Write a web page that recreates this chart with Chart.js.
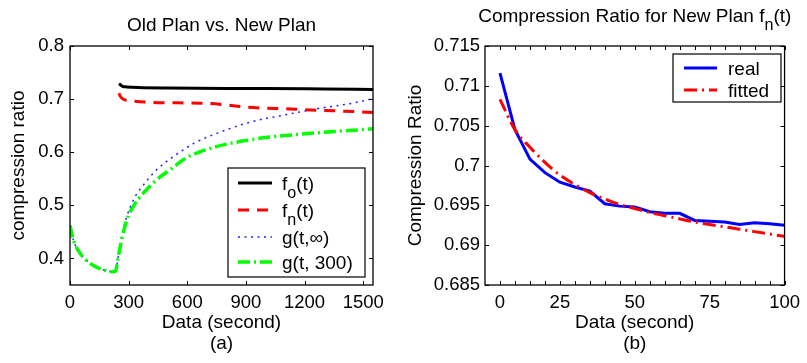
<!DOCTYPE html>
<html>
<head>
<meta charset="utf-8">
<script src="https://cdn.jsdelivr.net/npm/chart.js@4.4.0/dist/chart.umd.min.js"></script>
<style>
  html, body { margin: 0; padding: 0; background: #fff; }
  #wrap { position: relative; width: 807px; height: 363px; }
  #left { position: absolute; left: 0; top: 0; }
  #right { position: absolute; left: 400px; top: 0; }
</style>
</head>
<body>
<div id="wrap">
  <canvas id="left" width="400" height="363"></canvas>
  <canvas id="right" width="407" height="363"></canvas>
</div>
<script>
// (a) old plan vs new plan, x = time in seconds
const foTime = [250, 258, 268, 290, 350, 500, 800, 1000, 1300, 1550];
const foRatio = [0.729, 0.727, 0.724, 0.723, 0.722, 0.721, 0.720, 0.720, 0.719, 0.718];

const fnTime = [250, 258, 268, 285, 325, 410, 550, 700, 800, 900, 1000, 1100, 1200, 1350, 1550];
const fnRatio = [0.711, 0.705, 0.701, 0.698, 0.696, 0.694, 0.693, 0.692, 0.689, 0.685, 0.683, 0.682, 0.680, 0.678, 0.675];

const gInfTime = [0, 17, 51, 102, 153, 220, 232, 247, 264, 290, 324, 375, 443, 530, 635, 755, 925, 1095, 1265, 1440, 1550];
const gInfRatio = [0.462, 0.435, 0.41, 0.391, 0.381, 0.375, 0.376, 0.404, 0.44, 0.478, 0.51, 0.538, 0.567, 0.592, 0.617, 0.636, 0.657, 0.670, 0.682, 0.692, 0.701];

const g300Time = [0, 17, 51, 102, 153, 220, 232, 247, 264, 290, 324, 375, 443, 512, 597, 668, 753, 839, 900, 1010, 1181, 1353, 1550];
const g300Ratio = [0.462, 0.435, 0.41, 0.391, 0.381, 0.375, 0.376, 0.403, 0.435, 0.472, 0.498, 0.523, 0.548, 0.567, 0.590, 0.601, 0.611, 0.618, 0.622, 0.628, 0.634, 0.639, 0.644];

const leftXTicks = [0, 300, 600, 900, 1200, 1500];
const leftYTicks = [0.4, 0.5, 0.6, 0.7, 0.8];

// (b) new plan, 20 samples
const sampleLabels = ['0', '', '', '', '25', '', '', '', '', '50', '', '', '', '', '75', '', '', '', '', '100'];
const realRatio = [0.7116, 0.7045, 0.7008, 0.6991, 0.6979, 0.6973, 0.6968, 0.6952, 0.6949, 0.6948,
                   0.6942, 0.6940, 0.6940, 0.6931, 0.6930, 0.6929, 0.6926, 0.6928, 0.6927, 0.6925];
const fittedRatio = [0.7083, 0.7045, 0.7023, 0.7004, 0.6988, 0.6976, 0.6966, 0.6958, 0.6951, 0.6946,
                     0.6941, 0.6937, 0.6933, 0.6929, 0.6926, 0.6923, 0.6920, 0.6917, 0.6914, 0.6911];
const rightYTicks = [0.685, 0.69, 0.695, 0.7, 0.705, 0.71, 0.715];

const FONT = '"Liberation Sans", Arial, Helvetica, sans-serif';
const pts = (xs, ys) => xs.map((x, i) => ({x: x, y: ys[i]}));

// text with "_c" subscripts
function drawRich(ctx, text, x, y, size, align) {
  const parts = [];
  for (let i = 0; i < text.length; i++) {
    if (text[i] === '_') {
      parts.push({s: text[i + 1], sub: true});
      i++;
    } else if (parts.length && !parts[parts.length - 1].sub) {
      parts[parts.length - 1].s += text[i];
    } else {
      parts.push({s: text[i], sub: false});
    }
  }
  const subSize = size * 0.85;
  let total = 0;
  parts.forEach(p => {
    ctx.font = (p.sub ? subSize : size) + 'px ' + FONT;
    p.w = ctx.measureText(p.s).width;
    total += p.w;
  });
  let cx = align === 'center' ? x - total / 2 : x;
  ctx.textAlign = 'left';
  ctx.textBaseline = 'alphabetic';
  ctx.fillStyle = '#000';
  parts.forEach(p => {
    ctx.font = (p.sub ? subSize : size) + 'px ' + FONT;
    ctx.fillText(p.s, cx, p.sub ? y + size * 0.4 : y);
    cx += p.w;
  });
}

// box, inward ticks, title and legend
const frame = {
  id: 'frame',
  afterDraw(chart, args, opts) {
    const {ctx, chartArea: a, scales: {x, y}} = chart;
    const L = 4;
    ctx.save();
    ctx.strokeStyle = '#000';
    ctx.lineWidth = 1;
    ctx.setLineDash([]);
    ctx.beginPath();
    x.ticks.forEach(t => {
      const px = Math.round(x.getPixelForValue(t.value)) + 0.5;
      ctx.moveTo(px, a.bottom); ctx.lineTo(px, a.bottom - L);
      ctx.moveTo(px, a.top); ctx.lineTo(px, a.top + L);
    });
    y.ticks.forEach(t => {
      const py = Math.round(y.getPixelForValue(t.value)) + 0.5;
      ctx.moveTo(a.left, py); ctx.lineTo(a.left + L, py);
      ctx.moveTo(a.right, py); ctx.lineTo(a.right - L, py);
    });
    ctx.stroke();
    ctx.lineWidth = 1.3;
    ctx.strokeRect(a.left, a.top, a.right - a.left, a.bottom - a.top);

    drawRich(ctx, opts.title, (a.left + a.right) / 2, opts.titleY, 19, 'center');

    const lg = opts.legend;
    ctx.fillStyle = '#fff';
    ctx.fillRect(lg.box[0], lg.box[1], lg.box[2] - lg.box[0], lg.box[3] - lg.box[1]);
    ctx.lineWidth = 1.2;
    ctx.strokeStyle = '#000';
    ctx.strokeRect(lg.box[0], lg.box[1], lg.box[2] - lg.box[0], lg.box[3] - lg.box[1]);
    chart.data.datasets.forEach((ds, i) => {
      const ry = lg.rows[i];
      ctx.beginPath();
      ctx.strokeStyle = ds.borderColor;
      ctx.lineWidth = ds.borderWidth;
      ctx.setLineDash(ds.borderDash || []);
      ctx.moveTo(lg.lineX[0], ry);
      ctx.lineTo(lg.lineX[1], ry);
      ctx.stroke();
      ctx.setLineDash([]);
      drawRich(ctx, ds.label, lg.textX, ry + 7, 19, 'left');
    });
    ctx.restore();
  }
};

const tickFont = {family: FONT, size: 18.5};
const titleFont = {family: FONT, size: 19};

new Chart(document.getElementById('left'), {
  type: 'line',
  data: {
    datasets: [
      {label: 'f_o(t)', data: pts(foTime, foRatio), borderColor: '#000000', borderWidth: 3},
      {label: 'f_n(t)', data: pts(fnTime, fnRatio), borderColor: '#ff0000', borderWidth: 3, borderDash: [11, 8]},
      {label: 'g(t,∞)', data: pts(gInfTime, gInfRatio), borderColor: '#2020ff', borderWidth: 1.5, borderDash: [2, 4.5]},
      {label: 'g(t, 300)', data: pts(g300Time, g300Ratio), borderColor: '#00ff00', borderWidth: 3.5, borderDash: [12, 4, 2, 4], order: -1}
    ]
  },
  options: {
    responsive: false,
    animation: false,
    layout: {padding: {left: 0, right: 27, top: 46, bottom: 0}},
    elements: {point: {radius: 0}, line: {cubicInterpolationMode: 'monotone', fill: false}},
    plugins: {
      legend: {display: false},
      tooltip: {enabled: false},
      frame: {
        title: 'Old Plan vs. New Plan',
        titleY: 31,
        legend: {box: [228, 168, 365, 277], rows: [183, 210, 237, 262], lineX: [238, 272], textX: 282}
      }
    },
    scales: {
      x: {
        type: 'linear', min: 0, max: 1550,
        grid: {display: false, drawTicks: false}, border: {display: false},
        afterBuildTicks: s => { s.ticks = leftXTicks.map(v => ({value: v})); },
        afterFit: s => { s.height = 78; },
        ticks: {color: '#000', font: tickFont, padding: 7, autoSkip: false, maxRotation: 0, callback: v => String(v)},
        title: {display: true, text: ['Data (second)', '(a)'], color: '#000',
                font: {family: FONT, size: 19, lineHeight: 1.105}, padding: {top: 0, bottom: 9}}
      },
      y: {
        min: 0.35, max: 0.8,
        grid: {display: false, drawTicks: false}, border: {display: false},
        afterBuildTicks: s => { s.ticks = leftYTicks.map(v => ({value: v})); },
        afterFit: s => { s.width = 70; },
        ticks: {color: '#000', font: tickFont, padding: 6, callback: v => String(v)},
        title: {display: true, text: 'compression ratio', color: '#000', font: titleFont, padding: {top: 7, bottom: 0}}
      }
    }
  },
  plugins: [frame]
});

new Chart(document.getElementById('right'), {
  type: 'line',
  data: {
    datasets: [
      {label: 'real', data: realRatio.map((v, i) => ({x: i, y: v})), borderColor: '#0000ff', borderWidth: 3, tension: 0},
      {label: 'fitted', data: fittedRatio.map((v, i) => ({x: i, y: v})), borderColor: '#ff0000', borderWidth: 3,
       borderDash: [13, 5, 2, 5], cubicInterpolationMode: 'monotone', order: -1}
    ]
  },
  options: {
    responsive: false,
    animation: false,
    layout: {padding: {left: 0, right: 19, top: 46, bottom: 0}},
    elements: {point: {radius: 0}, line: {fill: false}},
    plugins: {
      legend: {display: false},
      tooltip: {enabled: false},
      frame: {
        title: 'Compression Ratio for New Plan f_n(t)',
        titleY: 22,
        legend: {box: [273, 54, 381, 102], rows: [68, 90], lineX: [284, 317], textX: 328}
      }
    },
    scales: {
      x: {
        type: 'linear', min: -1, max: 19,
        grid: {display: false, drawTicks: false}, border: {display: false},
        afterBuildTicks: s => { s.ticks = sampleLabels.map((l, i) => ({value: i})); },
        afterFit: s => { s.height = 78; },
        ticks: {color: '#000', font: tickFont, padding: 7, autoSkip: false, maxRotation: 0,
                callback: v => sampleLabels[v]},
        title: {display: true, text: ['Data (second)', '(b)'], color: '#000',
                font: {family: FONT, size: 19, lineHeight: 1.105}, padding: {top: 0, bottom: 9}}
      },
      y: {
        min: 0.685, max: 0.715,
        grid: {display: false, drawTicks: false}, border: {display: false},
        afterBuildTicks: s => { s.ticks = rightYTicks.map(v => ({value: v})); },
        afterFit: s => { s.width = 85; },
        ticks: {color: '#000', font: tickFont, padding: 5, callback: v => String(v)},
        title: {display: true, text: 'Compression Ratio', color: '#000', font: titleFont, padding: {top: 4, bottom: 0}}
      }
    }
  },
  plugins: [frame]
});
</script>
</body>
</html>
